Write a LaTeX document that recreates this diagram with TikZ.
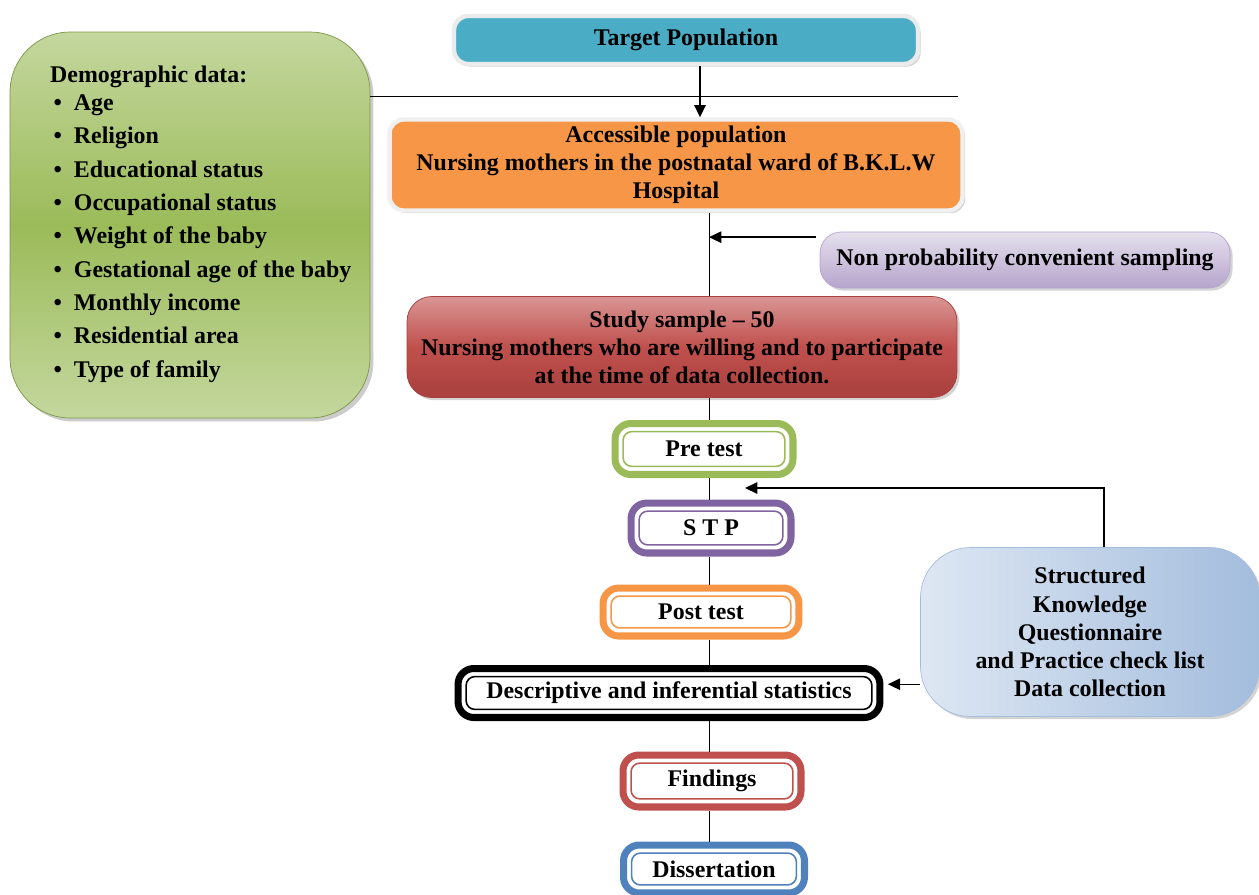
\documentclass[tikz,border=0pt]{standalone}
\usepackage{fontspec}
\setmainfont{Liberation Serif}
\usetikzlibrary{arrows.meta,shadows}

\definecolor{tealc}{HTML}{4BACC6}
\definecolor{orangec}{HTML}{F79646}
\definecolor{redc}{HTML}{C0504D}
\definecolor{redl}{HTML}{D99694}
\definecolor{redd}{HTML}{A8403D}
\definecolor{greenc}{HTML}{9BBB59}
\definecolor{greenl}{HTML}{C4D79E}
\definecolor{purplec}{HTML}{8064A2}
\definecolor{lavl}{HTML}{E6E0EE}
\definecolor{lavd}{HTML}{B5A5CC}
\definecolor{bluec}{HTML}{4F81BD}
\definecolor{bluel}{HTML}{DEE7F3}
\definecolor{bluem}{HTML}{A3BDDD}

\begin{document}
\begin{tikzpicture}[x=0.02cm,y=-0.02cm,font=\fontsize{13.6}{16}\selectfont\bfseries,
    blockbox/.style={rounded corners=8pt,align=center,inner sep=2pt,
        drop shadow={shadow xshift=1.5pt,shadow yshift=-1.5pt,opacity=.35}},
    ringbox/.style={draw=#1,line width=4pt,rounded corners=9pt,fill=white,align=center,
        path picture={\draw[#1,line width=.9pt,rounded corners=5pt]
            ([shift={(4.6pt,4.6pt)}]path picture bounding box.south west) rectangle
            ([shift={(-4.6pt,-4.6pt)}]path picture bounding box.north east);}},
    arr/.style={-{Triangle[length=7pt,width=6.5pt]},thick}]
    \useasboundingbox (0,0) rectangle (1259,894);

    \node[rounded corners=1.2cm,draw=greenc!80!black,top color=greenl,bottom color=greenl,middle color=greenc,
        minimum width=7.2cm,minimum height=7.72cm,
        drop shadow={shadow xshift=2pt,shadow yshift=-2pt,opacity=.4}] (demo) at (190,225) {};
    \node[anchor=west,align=left,font=\fontsize{13.6}{19}\selectfont\bfseries] (demotxt) at (44,224)
        {Demographic data:\\[-3pt]
        \hspace*{2pt}\makebox[11.5pt][l]{\textbullet}Age\\
        \hspace*{2pt}\makebox[11.5pt][l]{\textbullet}Religion\\
        \hspace*{2pt}\makebox[11.5pt][l]{\textbullet}Educational status\\
        \hspace*{2pt}\makebox[11.5pt][l]{\textbullet}Occupational status\\
        \hspace*{2pt}\makebox[11.5pt][l]{\textbullet}Weight of the baby\\
        \hspace*{2pt}\makebox[11.5pt][l]{\textbullet}Gestational age of the baby\\
        \hspace*{2pt}\makebox[11.5pt][l]{\textbullet}Monthly income\\
        \hspace*{2pt}\makebox[11.5pt][l]{\textbullet}Residential area\\
        \hspace*{2pt}\makebox[11.5pt][l]{\textbullet}Type of family};

    \node[blockbox,draw=black!8,line width=2.5pt,fill=tealc,minimum width=9.28cm,minimum height=0.96cm] (tp) at (686,40) {Target Population};
    \node[blockbox,draw=black!6,line width=2.5pt,fill=orangec,minimum width=11.46cm,minimum height=1.82cm] (ap) at (676,165)
        {Accessible population\\Nursing mothers in the postnatal ward of B.K.L.W\\Hospital};
    \node[blockbox,rounded corners=12pt,draw=lavd,top color=lavl,bottom color=lavd,minimum width=8.2cm,minimum height=1.12cm] (ns) at (1025,260)
        {Non probability convenient sampling};
    \node[blockbox,rounded corners=14pt,draw=redd,top color=redl,bottom color=redd,middle color=redc,minimum width=11cm,minimum height=2.02cm] (ss) at (682,347)
        {Study sample -- 50\\Nursing mothers who are willing and to participate\\at the time of data collection.};
    \node[blockbox,rounded corners=1cm,draw=bluem,left color=bluel,right color=bluem,minimum width=6.78cm,minimum height=3.38cm] (skq) at (1090,632)
        {Structured\\Knowledge\\Questionnaire\\and Practice check list\\Data collection};

    \node[ringbox=greenc,minimum width=3.56cm,minimum height=1.02cm] (pre) at (704,449) {Pre test};
    \node[ringbox=purplec,minimum width=3.2cm,minimum height=1.0cm] (stp) at (711,528) {S T P};
    \node[ringbox=orangec,minimum width=3.92cm,minimum height=0.96cm] (post) at (701,612) {Post test};
    \node[ringbox=black,minimum width=8.44cm,minimum height=0.98cm] (ds) at (669,693) {Descriptive and inferential statistics};
    \node[ringbox=redc,minimum width=3.56cm,minimum height=1.04cm] (fin) at (712,781) {Findings};
    \node[ringbox=bluec,minimum width=3.62cm,minimum height=0.96cm] (diss) at (714,869) {Dissertation};

    \coordinate (spine) at (709,0);
    \coordinate (drop) at (700,0);
    \coordinate (rule) at (958,96);
    \coordinate (nsarr) at ([xshift=-2pt,yshift=13pt]ns.west);
    \coordinate (fb) at (745,488);
    \coordinate (dsin) at ([xshift=2.5pt,yshift=5pt]ds.east);

    \draw (demo.east |- rule) -- (rule);
    \draw[arr] (tp.south -| drop) -- (ap.north -| drop);
    \draw (ap.south -| spine) -- (ss.north -| spine);
    \draw[arr] (nsarr) -- (spine |- nsarr);
    \draw (ss.south -| spine) -- (pre.north -| spine);
    \draw (pre.south -| spine) -- (stp.north -| spine);
    \draw (stp.south -| spine) -- (post.north -| spine);
    \draw (post.south -| spine) -- (ds.north -| spine);
    \draw (ds.south -| spine) -- (fin.north -| spine);
    \draw (fin.south -| spine) -- (diss.north -| spine);
    \draw[arr] ([xshift=8pt]skq.north) |- (fb);
    \draw[arr] (skq.west |- dsin) -- (dsin);
\end{tikzpicture}
\end{document}
